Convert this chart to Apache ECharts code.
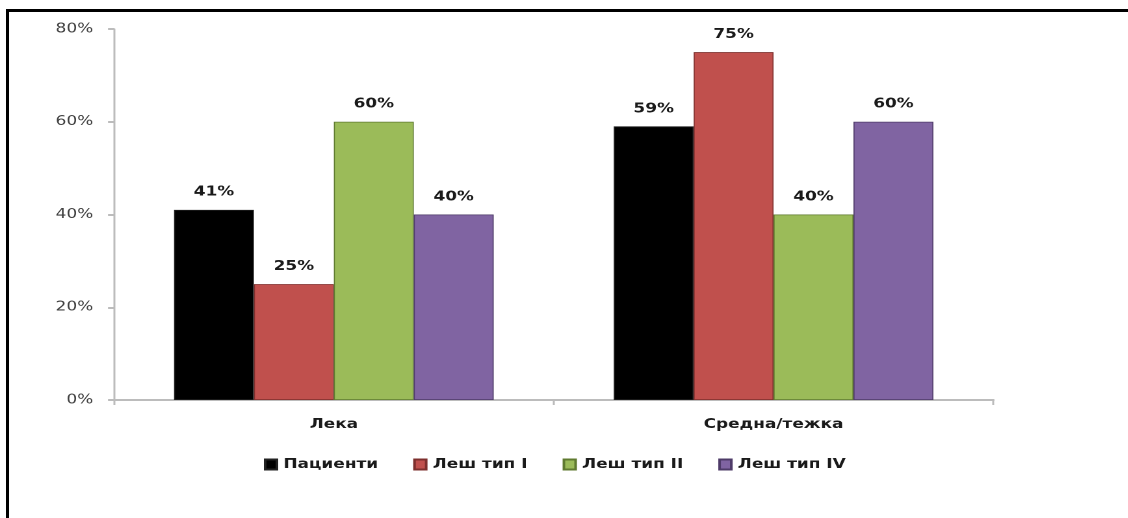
<!DOCTYPE html>
<html>
<head>
<meta charset="utf-8">
<script src="https://cdn.jsdelivr.net/npm/echarts@6/dist/echarts.min.js"></script>
<style>
  html, body { margin: 0; padding: 0; background: #fff; overflow: hidden; }
  body { position: relative; width: 1128px; height: 518px; }
  #chart { position: absolute; left: 0; top: 0; height: 518px; transform-origin: 0 0; }
  #frame {
    position: absolute; left: 6px; top: 9px; right: 0; bottom: 0;
    border-left: 3px solid #000; border-top: 3px solid #000;
    pointer-events: none;
  }
</style>
</head>
<body>
<div id="chart"></div>
<div id="frame"></div>
<script>
// Severity groups and the share of each group, in percent
const categories = ['Лека', 'Средна/тежка'];
const seriesNames = ['Пациенти', 'Леш тип I', 'Леш тип II', 'Леш тип IV'];
const patients = [41, 59];
const leshTypeI = [25, 75];
const leshTypeII = [60, 40];
const leshTypeIV = [40, 60];
const yTicks = [0, 20, 40, 60, 80];

const colors = ['#000000', '#C0504D', '#9BBB59', '#8064A2'];
const borders = ['#222222', '#7d2f2d', '#5f7a30', '#4e3b68'];
const values = [patients, leshTypeI, leshTypeII, leshTypeIV];

const font = 'DejaVu Sans, Verdana, sans-serif';

// The chart is laid out in a narrower box and widened horizontally,
// which gives the text its broad, flat look.
const STRETCH = 1.3;
const W = 1128 / STRETCH;
const el = document.getElementById('chart');
el.style.width = W + 'px';
el.style.transform = 'scaleX(' + STRETCH + ')';

const chart = echarts.init(el, null, { devicePixelRatio: 2 });

const series = seriesNames.map((name, i) => ({
  name: name,
  type: 'bar',
  data: values[i],
  barGap: '0%',
  barCategoryGap: '27.3%',
  itemStyle: { color: colors[i], borderColor: borders[i], borderWidth: 0.8 },
  label: {
    show: true,
    position: 'top',
    distance: 11,
    formatter: p => p.value + '%',
    fontFamily: font,
    fontWeight: 'bold',
    fontSize: 13,
    color: '#1a1a1a'
  }
}));

chart.setOption({
  animation: false,
  backgroundColor: '#ffffff',
  grid: { left: 114 / STRETCH, right: 135 / STRETCH, top: 29, bottom: 118 },
  xAxis: {
    type: 'category',
    data: categories,
    axisLine: { lineStyle: { color: '#bcbcbc', width: 2 } },
    axisTick: { show: true, length: 5, lineStyle: { color: '#bcbcbc', width: 1.5 } },
    axisLabel: {
      margin: 18,
      fontFamily: font,
      fontWeight: 'bold',
      fontSize: 13,
      color: '#1a1a1a'
    }
  },
  yAxis: {
    type: 'value',
    min: yTicks[0],
    max: yTicks[yTicks.length - 1],
    interval: 20,
    splitLine: { show: false },
    axisLine: { show: true, lineStyle: { color: '#bcbcbc', width: 1.5 } },
    axisTick: { show: true, length: 4.6, lineStyle: { color: '#bcbcbc', width: 2 } },
    axisLabel: {
      margin: 16,
      formatter: '{value}%',
      fontFamily: font,
      fontSize: 13,
      color: '#404040'
    }
  },
  legend: {
    data: seriesNames,
    bottom: 42,
    left: 198,
    icon: 'rect',
    itemWidth: 9,
    itemHeight: 10,
    itemGap: 27,
    textStyle: {
      fontFamily: font,
      fontWeight: 'bold',
      fontSize: 13,
      color: '#1a1a1a'
    }
  },
  series: series
});
</script>
</body>
</html>
